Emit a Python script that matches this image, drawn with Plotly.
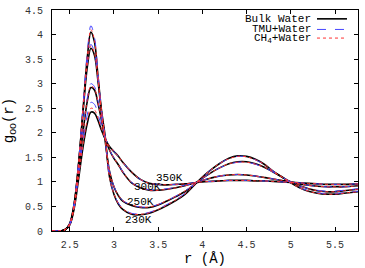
import plotly.graph_objects as go

# r grid (Angstrom)
r = [2.30, 2.40, 2.45, 2.50, 2.55, 2.60, 2.65, 2.70, 2.74, 2.78, 2.82, 2.86, 2.90, 2.95,
     3.00, 3.05, 3.10, 3.20, 3.30, 3.40, 3.50, 3.60, 3.70, 3.80, 3.90, 4.00, 4.10, 4.20,
     4.30, 4.40, 4.50, 4.60, 4.70, 4.80, 4.90, 5.00, 5.10, 5.20, 5.30, 5.40, 5.50, 5.60, 5.76]

# Bulk water g_OO(r)
bulk_230 = [0, 0.0, 0.03, 0.15, 0.55, 1.35, 2.45, 3.55, 4.05, 3.85, 3.15, 2.45, 1.95, 1.10,
            0.75, 0.55, 0.44, 0.34, 0.33, 0.36, 0.43, 0.52, 0.62, 0.74, 0.92, 1.10, 1.25, 1.38,
            1.48, 1.53, 1.52, 1.46, 1.36, 1.22, 1.10, 0.98, 0.88, 0.81, 0.77, 0.75, 0.75, 0.77, 0.80]
bulk_250 = [0, 0.0, 0.03, 0.14, 0.53, 1.35, 2.40, 3.35, 3.72, 3.58, 3.05, 2.40, 1.85, 1.22,
            0.90, 0.72, 0.61, 0.52, 0.48, 0.48, 0.53, 0.61, 0.70, 0.80, 0.93, 1.07, 1.19, 1.29,
            1.37, 1.41, 1.41, 1.37, 1.30, 1.20, 1.10, 1.00, 0.92, 0.86, 0.82, 0.80, 0.80, 0.82, 0.85]
bulk_300 = [0, 0.0, 0.03, 0.13, 0.50, 1.20, 2.00, 2.65, 2.92, 2.87, 2.60, 2.25, 1.90, 1.65,
            1.48, 1.35, 1.20, 0.98, 0.88, 0.83, 0.83, 0.85, 0.88, 0.92, 0.97, 1.03, 1.08, 1.12,
            1.14, 1.15, 1.14, 1.12, 1.09, 1.06, 1.03, 1.00, 0.96, 0.93, 0.91, 0.90, 0.90, 0.90, 0.92]
bulk_350 = [0, 0.0, 0.03, 0.12, 0.45, 1.05, 1.70, 2.20, 2.42, 2.40, 2.25, 2.05, 1.88, 1.72,
            1.62, 1.52, 1.40, 1.20, 1.05, 0.97, 0.95, 0.94, 0.95, 0.96, 0.98, 1.00, 1.01, 1.02,
            1.03, 1.03, 1.03, 1.02, 1.02, 1.01, 1.00, 0.99, 0.98, 0.97, 0.96, 0.95, 0.95, 0.95, 0.96]

# TMU + water
tmu_230 = [0, 0.0, 0.03, 0.15, 0.56, 1.38, 2.52, 3.66, 4.18, 3.95, 3.20, 2.45, 1.93, 1.10,
           0.77, 0.57, 0.46, 0.36, 0.35, 0.38, 0.45, 0.54, 0.64, 0.76, 0.93, 1.10, 1.25, 1.38,
           1.47, 1.52, 1.51, 1.45, 1.35, 1.22, 1.10, 0.98, 0.88, 0.82, 0.78, 0.76, 0.76, 0.78, 0.81]
tmu_250 = [0, 0.0, 0.03, 0.14, 0.54, 1.37, 2.45, 3.42, 3.80, 3.64, 3.08, 2.42, 1.86, 1.23,
           0.91, 0.73, 0.62, 0.53, 0.49, 0.49, 0.54, 0.62, 0.71, 0.81, 0.94, 1.07, 1.19, 1.29,
           1.36, 1.40, 1.40, 1.36, 1.29, 1.20, 1.10, 1.00, 0.92, 0.86, 0.83, 0.81, 0.81, 0.83, 0.86]
tmu_300 = [0, 0.0, 0.03, 0.13, 0.51, 1.23, 2.05, 2.72, 3.00, 2.94, 2.65, 2.28, 1.92, 1.66,
           1.49, 1.36, 1.21, 0.99, 0.89, 0.84, 0.84, 0.86, 0.89, 0.93, 0.97, 1.03, 1.08, 1.12,
           1.14, 1.15, 1.14, 1.12, 1.09, 1.06, 1.03, 1.00, 0.96, 0.93, 0.91, 0.90, 0.90, 0.90, 0.92]
tmu_350 = [0, 0.0, 0.03, 0.12, 0.47, 1.12, 1.82, 2.38, 2.62, 2.58, 2.38, 2.12, 1.90, 1.73,
           1.62, 1.52, 1.40, 1.20, 1.05, 0.97, 0.95, 0.94, 0.95, 0.96, 0.98, 1.00, 1.01, 1.02,
           1.03, 1.03, 1.03, 1.02, 1.02, 1.01, 1.00, 0.99, 0.98, 0.97, 0.96, 0.95, 0.95, 0.95, 0.96]

# CH4 + water
ch4_230 = [0, 0.0, 0.03, 0.15, 0.55, 1.36, 2.47, 3.58, 4.10, 3.89, 3.17, 2.45, 1.94, 1.10,
           0.76, 0.56, 0.45, 0.35, 0.34, 0.37, 0.44, 0.53, 0.63, 0.75, 0.92, 1.10, 1.25, 1.38,
           1.47, 1.52, 1.51, 1.45, 1.36, 1.22, 1.10, 0.98, 0.88, 0.81, 0.77, 0.75, 0.75, 0.77, 0.80]
ch4_250 = [0, 0.0, 0.03, 0.14, 0.54, 1.37, 2.44, 3.40, 3.77, 3.62, 3.07, 2.41, 1.86, 1.23,
           0.91, 0.73, 0.62, 0.53, 0.49, 0.49, 0.54, 0.62, 0.71, 0.81, 0.94, 1.07, 1.19, 1.29,
           1.37, 1.40, 1.40, 1.36, 1.30, 1.20, 1.10, 1.00, 0.92, 0.86, 0.82, 0.80, 0.80, 0.82, 0.85]
ch4_300 = [0, 0.0, 0.03, 0.13, 0.50, 1.21, 2.02, 2.68, 2.95, 2.90, 2.62, 2.26, 1.91, 1.65,
           1.48, 1.35, 1.20, 0.98, 0.88, 0.83, 0.83, 0.85, 0.88, 0.92, 0.97, 1.03, 1.08, 1.12,
           1.14, 1.15, 1.14, 1.12, 1.09, 1.06, 1.03, 1.00, 0.96, 0.93, 0.91, 0.90, 0.90, 0.90, 0.92]
ch4_350 = [0, 0.0, 0.03, 0.12, 0.46, 1.08, 1.75, 2.27, 2.50, 2.47, 2.30, 2.08, 1.89, 1.72,
           1.62, 1.52, 1.40, 1.20, 1.05, 0.97, 0.95, 0.94, 0.95, 0.96, 0.98, 1.00, 1.01, 1.02,
           1.03, 1.03, 1.03, 1.02, 1.02, 1.01, 1.00, 0.99, 0.98, 0.97, 0.96, 0.95, 0.95, 0.95, 0.96]

# temperature labels (text, r, g)
temp_labels = ["350K", "300K", "250K", "230K"]
temp_r = [3.63, 3.38, 3.305, 3.28]
temp_g = [1.08, 0.90, 0.60, 0.22]

FONT = "Liberation Mono"

fig = go.Figure()

for g in [bulk_230, bulk_250, bulk_300, bulk_350]:
    fig.add_trace(go.Scatter(x=r, y=g, mode="lines", line=dict(color="black", width=1.6, shape="spline"),
                             showlegend=False))
for g in [tmu_230, tmu_250, tmu_300, tmu_350]:
    fig.add_trace(go.Scatter(x=r, y=g, mode="lines",
                             line=dict(color="rgb(70,70,255)", width=1, dash="dash", shape="spline"),
                             showlegend=False))
for g in [ch4_230, ch4_250, ch4_300, ch4_350]:
    fig.add_trace(go.Scatter(x=r, y=g, mode="lines",
                             line=dict(color="rgb(255,50,50)", width=1, dash="dot", shape="spline"),
                             showlegend=False))

for t, x, y in zip(temp_labels, temp_r, temp_g):
    fig.add_annotation(x=x, y=y, text=t, showarrow=False, font=dict(family=FONT, size=11, color="black"))

# gnuplot-style key: text right-aligned, sample to the right
key = [("Bulk Water", 0.960, dict(color="black", width=1.6)),
       ("TMU+Water", 0.912, dict(color="rgb(70,70,255)", width=1, dash="dash")),
       ("CH<sub>4</sub>+Water", 0.873, dict(color="rgb(255,50,50)", width=1, dash="dot"))]
for txt, yk, ln in key:
    fig.add_annotation(x=0.852, y=yk, xref="paper", yref="paper", text=txt, showarrow=False,
                       xanchor="right", yanchor="middle", font=dict(family=FONT, size=11, color="black"))
    fig.add_shape(type="line", xref="paper", yref="paper", x0=0.866, x1=0.964, y0=yk, y1=yk, line=ln)

axis_style = dict(showline=True, linecolor="black", linewidth=1, mirror="allticks", ticks="inside",
                  ticklen=4, tickcolor="black", showgrid=False, zeroline=False,
                  tickfont=dict(family=FONT, size=10, color="#333"))

fig.update_layout(
    width=365, height=268,
    margin=dict(l=52, r=7, t=5, b=37),
    plot_bgcolor="white", paper_bgcolor="white",
    font=dict(family=FONT),
    xaxis=dict(range=[2.3, 5.76], dtick=0.5, tick0=2.5, ticklabelstandoff=4,
               title=dict(text="r (Å)", font=dict(family=FONT, size=14, color="black"), standoff=0),
               **axis_style),
    yaxis=dict(range=[0, 4.5], dtick=0.5, ticklabelstandoff=6,
               title=dict(text="g<sub>OO</sub>(r)", font=dict(family=FONT, size=14, color="black"), standoff=8),
               **axis_style),
)

# drop the default page margin so the figure sits at the window's corner
fig.write_html("out.html", config={"displayModeBar": False},
               post_script="document.body.style.margin='0';")
